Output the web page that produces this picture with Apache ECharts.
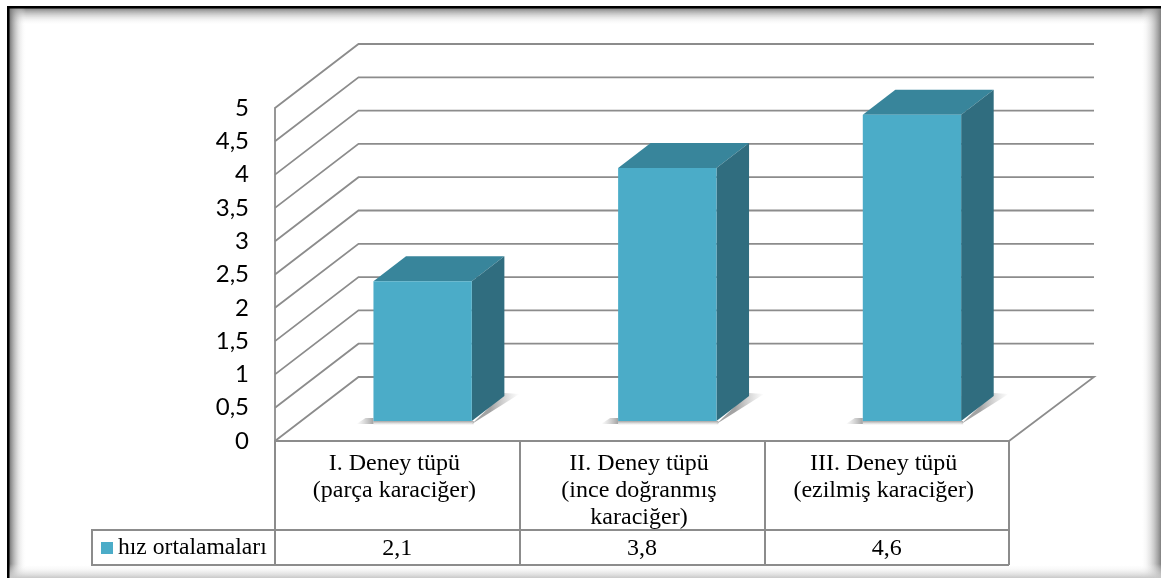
<!DOCTYPE html>
<html>
<head>
<meta charset="utf-8">
<style>html,body{margin:0;padding:0;background:#fff}#chart{width:1161px;height:578px}</style>
<script src="https://cdn.jsdelivr.net/npm/echarts@6/dist/echarts.min.js"></script>
</head>
<body>
<div id="chart"></div>
<script>
// Mean speed per test tube, with the values repeated in a table under the axis.
const seriesName = 'hız ortalamaları';
const categories = [
  'I. Deney tüpü\n(parça karaciğer)',
  'II. Deney tüpü\n(ince doğranmış\nkaraciğer)',
  'III. Deney tüpü\n(ezilmiş karaciğer)'
];
const speeds = [2.1, 3.8, 4.6];
const yTicks = [0, 0.5, 1, 1.5, 2, 2.5, 3, 3.5, 4, 4.5, 5];

const LINE = '#8c8c8c';
const SERIF = '"Liberation Serif", serif';
const comma = v => String(v).replace('.', ',');

// Oblique projection: how far the back wall sits from the front plane, in pixels.
const DEPTH_X = 83.5, DEPTH_Y = 64;
const BAR_FRONT_X = 0.303, BAR_FRONT_Y = 0.3125, BAR_DEPTH = 0.39, BAR_WIDTH = 0.402;

function fade(x, y, x2, y2, colour) {
  return {
    type: 'linear', global: true, x, y, x2, y2,
    colorStops: [{ offset: 0, color: colour }, { offset: 1, color: 'rgba(170,170,170,0)' }]
  };
}

function renderWall(params, api) {
  const tick = api.value(1);
  const band = api.size([1, 0])[0];
  const n = categories.length;
  const a = api.coord([0, tick]);
  const left = a[0] - band / 2;
  const right = left + band * n;
  const y = a[1];
  const pts = [[left, y], [left + DEPTH_X, y - DEPTH_Y], [right + DEPTH_X + 1.5, y - DEPTH_Y]];
  if (tick === 0) pts.push([right, y]);
  return {
    type: 'polyline',
    shape: { points: pts },
    style: { stroke: LINE, lineWidth: 1.8, fill: null }
  };
}

function renderBar(params, api) {
  const i = api.value(0);
  const band = api.size([1, 0])[0];
  const top = api.coord([i, api.value(1)]);
  const base = api.coord([i, 0]);
  const dx0 = DEPTH_X * BAR_FRONT_X, dy0 = DEPTH_Y * BAR_FRONT_Y;
  const dx = DEPTH_X * BAR_DEPTH, dy = DEPTH_Y * BAR_DEPTH;
  const w = band * BAR_WIDTH;
  const x0 = top[0] + dx0 - w / 2, x1 = x0 + w;
  const yTop = top[1] - dy0, yBase = base[1] - dy0;
  const colour = api.visual('color');
  const tone = 'rgba(140,140,140,0.8)';
  return {
    type: 'group',
    children: [
      { // floor shadow running along the front edge
        type: 'rect',
        shape: { x: x0, y: yBase, width: w + 2, height: 4 },
        style: { fill: fade(0, yBase, 0, yBase + 4, tone) }
      },
      { // its soft left end
        type: 'polygon',
        shape: { points: [[x0 - 17, yBase + 3], [x0 - 8, yBase - 3], [x0, yBase - 3], [x0, yBase + 3]] },
        style: { fill: fade(x0, 0, x0 - 17, 0, tone) }
      },
      { // floor shadow on the right of the bar
        type: 'polygon',
        shape: { points: [[x1, yBase + 3], [x1 + dx + 15, yBase - dy - 2], [x1 + dx, yBase - dy - 3]] },
        style: { fill: fade(x1 + dx - 14, 0, x1 + dx + 15, 0, tone) }
      },
      {
        type: 'polygon',
        shape: { points: [[x0, yTop], [x1, yTop], [x1 + dx, yTop - dy], [x0 + dx, yTop - dy]] },
        style: { fill: '#38859b' }
      },
      {
        type: 'polygon',
        shape: { points: [[x1, yTop], [x1 + dx, yTop - dy], [x1 + dx, yBase - dy], [x1, yBase]] },
        style: { fill: '#306d7f' }
      },
      {
        type: 'rect',
        shape: { x: x0, y: yTop, width: w, height: yBase - yTop },
        style: { fill: colour }
      }
    ]
  };
}

function renderTableRow(params, api) {
  const i = api.value(0);
  const band = api.size([1, 0])[0];
  const base = api.coord([i, 0]);
  const yHead = base[1] + 89, yFoot = base[1] + 124;
  const children = [{
    type: 'text',
    style: {
      text: comma(api.value(1)), x: base[0], y: (yHead + yFoot) / 2 + 1,
      align: 'center', verticalAlign: 'middle', font: '24px ' + SERIF, fill: '#000'
    }
  }];
  if (i === 0) {
    const left = base[0] - band / 2;
    const right = left + band * categories.length;
    const legendLeft = left - 183;
    children.push({
      type: 'polyline',
      shape: { points: [[right, yHead], [legendLeft, yHead], [legendLeft, yFoot], [right, yFoot]] },
      style: { stroke: LINE, lineWidth: 2, fill: null }
    });
  }
  return { type: 'group', children };
}

const frame = [
  { type: 'rect', shape: { x: 9, y: 8, width: 1152, height: 17 },
    style: { fill: { type: 'linear', x: 0, y: 0, x2: 0, y2: 1, colorStops: [{ offset: 0, color: '#808080' }, { offset: 1, color: 'rgba(255,255,255,0)' }] } } },
  { type: 'rect', shape: { x: 9, y: 8, width: 17, height: 570 },
    style: { fill: { type: 'linear', x: 0, y: 0, x2: 1, y2: 0, colorStops: [{ offset: 0, color: '#707070' }, { offset: 1, color: 'rgba(255,255,255,0)' }] } } },
  { type: 'rect', shape: { x: 1141, y: 8, width: 20, height: 570 },
    style: { fill: { type: 'linear', x: 0, y: 0, x2: 1, y2: 0, colorStops: [{ offset: 0, color: 'rgba(255,255,255,0)' }, { offset: 1, color: '#808080' }] } } },
  { type: 'rect', shape: { x: 9, y: 564, width: 1152, height: 14 },
    style: { fill: { type: 'linear', x: 0, y: 0, x2: 0, y2: 1, colorStops: [{ offset: 0, color: 'rgba(255,255,255,0)' }, { offset: 1, color: '#c8c8c8' }] } } },
  { type: 'rect', shape: { x: 7, y: 6, width: 1154, height: 2.5 }, style: { fill: '#000' } },
  { type: 'rect', shape: { x: 7, y: 6, width: 2.5, height: 572 }, style: { fill: '#000' } }
];

const chart = echarts.init(document.getElementById('chart'), null, { renderer: 'canvas' });
chart.setOption({
  animation: false,
  graphic: { elements: frame },
  grid: { left: 275, top: 108, width: 734, height: 333 },
  legend: {
    left: 101, top: 536, padding: 0,
    itemWidth: 12, itemHeight: 12,
    data: [{ name: seriesName, icon: 'rect' }],
    textStyle: { fontFamily: SERIF, fontSize: 23.6, color: '#000' }
  },
  xAxis: {
    type: 'category',
    data: categories,
    axisLine: { lineStyle: { color: LINE, width: 2 } },
    axisTick: { show: true, length: 124, alignWithLabel: false, lineStyle: { color: LINE, width: 2 } },
    axisLabel: {
      interval: 0, margin: 9, lineHeight: 27, padding: [0, 6, 0, 0],
      fontFamily: SERIF, fontSize: 24, color: '#000'
    }
  },
  yAxis: {
    type: 'value', min: 0, max: 5, interval: 0.5,
    axisLine: { show: true, lineStyle: { color: LINE, width: 1.8 } },
    axisTick: { show: false },
    splitLine: { show: false },
    axisLabel: {
      margin: 26, formatter: comma,
      fontFamily: 'Lato, sans-serif', fontSize: 24, color: '#000'
    }
  },
  series: [
    {
      type: 'custom', name: 'walls', z: 1, silent: true,
      renderItem: renderWall,
      data: yTicks.map(t => [0, t])
    },
    {
      type: 'custom', name: seriesName, z: 3,
      itemStyle: { color: '#4bacc8' },
      renderItem: renderBar,
      data: speeds.map((v, i) => [i, v])
    },
    {
      type: 'custom', name: 'table', z: 4, silent: true,
      renderItem: renderTableRow,
      data: speeds.map((v, i) => [i, v])
    }
  ]
});
</script>
</body>
</html>
